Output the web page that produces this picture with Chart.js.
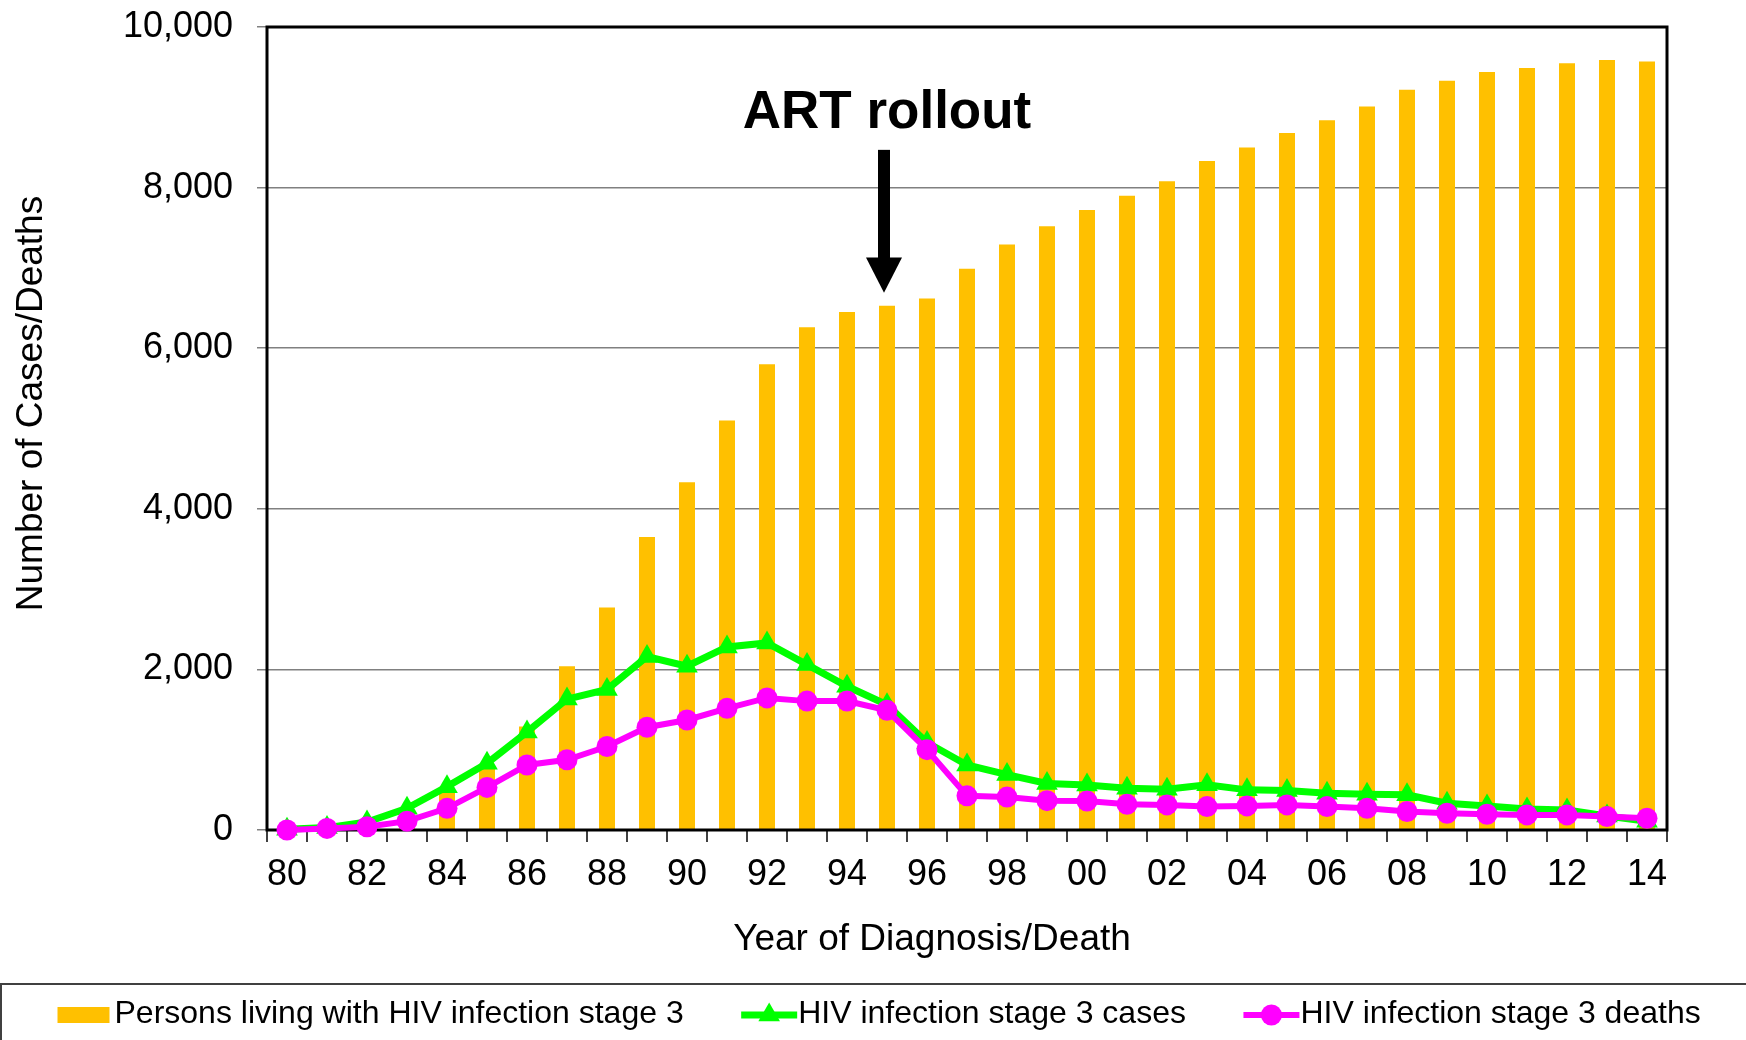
<!DOCTYPE html>
<html>
<head>
<meta charset="utf-8">
<title>HIV infection stage 3</title>
<script src="https://cdn.jsdelivr.net/npm/chart.js@4.4.1/dist/chart.umd.min.js"></script>
<style>
  html, body { margin: 0; padding: 0; background: #fff; }
  #wrap { width: 1746px; height: 1040px; }
</style>
</head>
<body>
<div id="wrap"><canvas id="hivChart" width="1746" height="1040"></canvas></div>
<script>
// Data
const years = ['80','81','82','83','84','85','86','87','88','89',
               '90','91','92','93','94','95','96','97','98','99',
               '00','01','02','03','04','05','06','07','08','09',
               '10','11','12','13','14'];
const livingStage3 = [5, 20, 80, 200, 520, 800, 1290, 2040, 2770, 3650,
                      4330, 5100, 5800, 6260, 6450, 6530, 6620, 6990, 7290, 7520,
                      7720, 7900, 8080, 8330, 8500, 8680, 8840, 9010, 9220, 9330,
                      9440, 9490, 9550, 9590, 9570];
const stage3Cases = [10, 30, 100, 270, 540, 830, 1220, 1630, 1750, 2160,
                     2040, 2280, 2330, 2060, 1790, 1560, 1090, 810, 690, 580,
                     560, 520, 508, 562, 500, 492, 458, 446, 438, 333,
                     300, 262, 250, 175, 110];
const stage3Deaths = [0, 20, 40, 110, 270, 530, 810, 875, 1040, 1280,
                      1370, 1515, 1645, 1605, 1605, 1490, 1000, 425, 410, 365,
                      360, 320, 312, 292, 300, 312, 292, 270, 230, 208,
                      196, 188, 188, 167, 146];
const seriesLabels = ['Persons living with HIV infection stage 3',
                      'HIV infection stage 3 cases',
                      'HIV infection stage 3 deaths'];
const xTitle = 'Year of Diagnosis/Death';
const yTitle = 'Number of Cases/Deaths';
const artLabel = 'ART rollout';
const artYear = '95';

const FONT = '"Liberation Sans", Arial, Helvetica, sans-serif';
const LEGEND_BOX = 86.5;
const LEGEND_FONT = 32;

Chart.defaults.font.family = FONT;
Chart.defaults.color = '#000';

// draws the plot frame, axis titles, the ART arrow and the legend symbols
const extras = {
    id: 'extras',
    afterDatasetDraw(chart, args) {
        if (args.index !== 0) return;  // right after the bars
        const a = chart.chartArea;
        const ctx = chart.ctx;
        ctx.save();
        ctx.strokeStyle = '#000';
        ctx.lineWidth = 3;
        ctx.strokeRect(a.left, a.top, a.right - a.left, a.bottom - a.top);
        ctx.restore();
    },
    afterDraw(chart) {
        const ctx = chart.ctx;
        const xs = chart.scales.x, ys = chart.scales.y;
        ctx.save();
        ctx.fillStyle = '#000';

        // axis titles
        ctx.textAlign = 'center';
        ctx.textBaseline = 'alphabetic';
        ctx.font = '37px ' + FONT;
        ctx.save();
        ctx.translate(41.5, 403.5);
        ctx.rotate(-Math.PI / 2);
        ctx.fillText(yTitle, 0, 0);
        ctx.restore();
        ctx.fillText(xTitle, 932, 950);

        // ART rollout annotation
        const ax = xs.getPixelForValue(years.indexOf(artYear));
        ctx.font = 'bold 53px ' + FONT;
        ctx.fillText(artLabel, ax, ys.getPixelForValue(8740));
        const sx = ax - 3;
        const shaftTop = ys.getPixelForValue(8470);
        const headBase = ys.getPixelForValue(7130);
        const tip = ys.getPixelForValue(6690);
        ctx.fillRect(sx - 6, shaftTop, 12, headBase - shaftTop + 1);
        ctx.beginPath();
        ctx.moveTo(sx - 18, headBase);
        ctx.lineTo(sx + 18, headBase);
        ctx.lineTo(sx, tip);
        ctx.closePath();
        ctx.fill();

        // legend frame
        ctx.strokeStyle = '#404040';
        ctx.lineWidth = 2;
        ctx.strokeRect(1, 984, 1800, 200);

        // legend symbols
        const boxes = chart.legend.legendHitBoxes || [];
        boxes.forEach((hb, i) => {
            const ds = chart.data.datasets[i];
            const textX = hb.left + LEGEND_BOX + LEGEND_FONT / 2;
            const cy = hb.top + hb.height / 2 + 1;
            if (ds.type === 'bar') {
                ctx.fillStyle = ds.backgroundColor;
                ctx.fillRect(textX - 57, cy - 8, 52, 16);
            } else {
                const x0 = textX - 57, x1 = textX - 1;
                ctx.strokeStyle = ds.borderColor;
                ctx.lineWidth = ds.borderWidth;
                ctx.beginPath();
                ctx.moveTo(x0, cy);
                ctx.lineTo(x1, cy);
                ctx.stroke();
                ctx.fillStyle = ds.backgroundColor;
                Chart.helpers.drawPoint(ctx, {
                    pointStyle: ds.pointStyle, radius: ds.pointRadius, rotation: 0, borderWidth: 0
                }, (x0 + x1) / 2, cy);
            }
        });
        ctx.restore();
    }
};

const ctx = document.getElementById('hivChart').getContext('2d');
const hivChart = new Chart(ctx, {
    type: 'bar',
    data: {
        labels: years,
        datasets: [
            {
                type: 'bar',
                label: seriesLabels[0],
                data: livingStage3,
                backgroundColor: '#FFC000',
                categoryPercentage: 1,
                barPercentage: 0.4,
                order: 3
            },
            {
                type: 'line',
                label: seriesLabels[1],
                data: stage3Cases,
                borderColor: '#00FF00',
                backgroundColor: '#00FF00',
                borderWidth: 7,
                pointStyle: 'triangle',
                pointRadius: 12.5,
                pointBorderWidth: 0,
                tension: 0,
                clip: false,
                order: 2
            },
            {
                type: 'line',
                label: seriesLabels[2],
                data: stage3Deaths,
                borderColor: '#FF00FF',
                backgroundColor: '#FF00FF',
                borderWidth: 6,
                pointStyle: 'circle',
                pointRadius: 10.5,
                pointBorderWidth: 0,
                tension: 0,
                clip: false,
                order: 1
            }
        ]
    },
    options: {
        responsive: false,
        animation: false,
        layout: { padding: { left: 0, top: 27, right: 0, bottom: 0 } },
        scales: {
            x: {
                grid: { offset: true, drawOnChartArea: false, tickLength: 12, color: '#404040', lineWidth: 2 },
                border: { display: false },
                ticks: {
                    autoSkip: false,
                    maxRotation: 0,
                    padding: 11,
                    font: { size: 36 },
                    color: '#000',
                    callback: (v, i) => (i % 2 === 0 ? years[i] : '')
                },
                afterFit: s => { s.height = 156; }
            },
            y: {
                min: 0,
                max: 10000,
                ticks: {
                    stepSize: 2000,
                    padding: 24,
                    // tiny line height so the label padding does not push the plot top down
                    font: { size: 36, lineHeight: 0.1 },
                    color: '#000',
                    callback: v => Number(v).toLocaleString('en-US')
                },
                grid: { color: '#808080', lineWidth: 1.5, tickLength: 10 },
                border: { display: false },
                afterFit: s => { s.width = 267; }
            },
            y2: {
                position: 'right',
                display: true,
                grid: { display: false },
                ticks: { display: false },
                border: { display: false },
                afterFit: s => { s.width = 79; }
            }
        },
        plugins: {
            legend: {
                display: true,
                position: 'bottom',
                align: 'start',
                labels: {
                    boxWidth: LEGEND_BOX,
                    boxHeight: 16,
                    padding: 12,
                    font: { size: LEGEND_FONT },
                    color: '#000',
                    generateLabels: chart => chart.data.datasets.map((ds, i) => ({
                        text: ds.label,
                        fillStyle: 'rgba(0,0,0,0)',
                        strokeStyle: 'rgba(0,0,0,0)',
                        lineWidth: 0,
                        hidden: false,
                        datasetIndex: i,
                        fontColor: '#000'
                    }))
                }
            },
            tooltip: { enabled: false }
        }
    },
    plugins: [extras]
});
</script>
</body>
</html>
